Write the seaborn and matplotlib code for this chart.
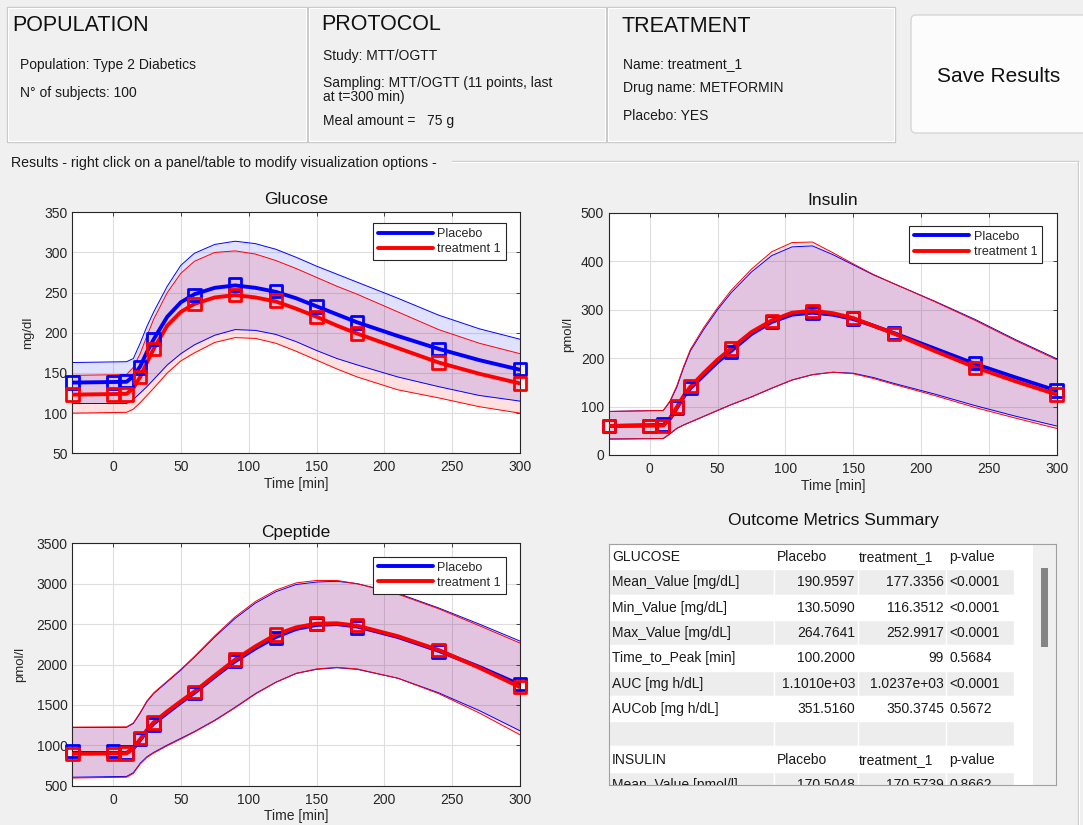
import matplotlib
matplotlib.use("Agg")
import matplotlib.pyplot as plt
import seaborn as sns
from matplotlib.patches import Rectangle, FancyBboxPatch
from matplotlib.lines import Line2D

# ------------------------------------------------------------------ data
T_CURVE = [-30, 10, 15, 20, 25, 30, 40, 50, 60, 75, 90, 105, 120, 135, 150, 165, 180, 210, 240, 270, 300]
T_SAMPLE = [-30, 0, 10, 20, 30, 60, 90, 120, 150, 180, 240, 300]

# Glucose [mg/dl]
GLU_PLA_MEAN = [138, 139, 146, 158, 176, 192, 220, 238, 248, 256, 259, 256, 251, 243, 233, 223, 213, 196, 180, 166, 154]
GLU_PLA_HI = [163, 164, 168, 187, 208, 226, 258, 284, 299, 310, 314, 311, 304, 294, 283, 273, 263, 243, 222, 205, 192]
GLU_PLA_LO = [112, 112, 117, 125, 133, 142, 160, 174, 185, 197, 204, 203, 198, 189, 178, 168, 160, 145, 133, 122, 115]
GLU_TRT_MEAN = [123, 124, 131, 145, 163, 180, 209, 226, 236, 244, 247, 244, 239, 230, 220, 209, 199, 181, 163, 149, 137]
GLU_TRT_HI = [147, 148, 157, 174, 196, 217, 250, 274, 289, 300, 302, 298, 290, 280, 269, 258, 248, 226, 204, 187, 174]
GLU_TRT_LO = [100, 101, 105, 113, 122, 131, 150, 165, 175, 188, 194, 193, 187, 177, 166, 155, 145, 129, 119, 108, 100]
GLU_PLA_SAMPLES = [138, 138, 140, 157, 192, 247, 260, 252, 233, 213, 180, 155]
GLU_TRT_SAMPLES = [123, 123, 123, 145, 180, 236, 247, 240, 220, 199, 163, 137]

# Insulin [pmol/l]
INS_PLA_MEAN = [60, 62, 75, 97, 120, 138, 165, 192, 215, 250, 275, 290, 294, 290, 281, 267, 252, 220, 188, 160, 133]
INS_PLA_HI = [90, 92, 110, 140, 180, 215, 260, 300, 335, 378, 412, 430, 432, 414, 393, 372, 354, 318, 280, 238, 199]
INS_PLA_LO = [33, 34, 44, 55, 62, 68, 80, 92, 104, 120, 138, 155, 166, 171, 169, 160, 148, 126, 102, 80, 60]
INS_TRT_MEAN = [60, 61, 76, 99, 122, 141, 170, 197, 220, 254, 278, 294, 298, 293, 283, 267, 251, 215, 181, 152, 125]
INS_TRT_HI = [90, 92, 112, 143, 183, 218, 264, 304, 340, 384, 420, 439, 440, 418, 395, 373, 354, 317, 278, 236, 197]
INS_TRT_LO = [33, 34, 44, 55, 62, 68, 80, 92, 104, 120, 138, 155, 166, 171, 168, 158, 146, 123, 98, 76, 55]
INS_PLA_SAMPLES = [60, 60, 63, 98, 138, 213, 275, 293, 282, 252, 190, 133]
INS_TRT_SAMPLES = [60, 60, 60, 100, 142, 220, 277, 298, 283, 250, 180, 125]

# C-peptide [pmol/l]
CP_PLA_MEAN = [905, 905, 960, 1065, 1180, 1270, 1400, 1530, 1650, 1850, 2040, 2200, 2340, 2440, 2490, 2500, 2470, 2340, 2170, 1970, 1750]
CP_PLA_HI = [1220, 1222, 1270, 1395, 1540, 1640, 1785, 1930, 2090, 2340, 2570, 2760, 2900, 2990, 3020, 3030, 3000, 2880, 2700, 2500, 2290]
CP_PLA_LO = [605, 615, 661, 776, 858, 912, 1003, 1086, 1170, 1310, 1470, 1640, 1780, 1890, 1940, 1960, 1940, 1830, 1650, 1430, 1180]
CP_TRT_MEAN = [895, 900, 965, 1075, 1190, 1284, 1420, 1545, 1665, 1865, 2060, 2225, 2370, 2460, 2505, 2510, 2480, 2350, 2180, 1960, 1720]
CP_TRT_HI = [1225, 1228, 1278, 1405, 1550, 1650, 1795, 1940, 2100, 2355, 2590, 2780, 2920, 3010, 3040, 3040, 3000, 2870, 2690, 2480, 2265]
CP_TRT_LO = [595, 605, 652, 768, 850, 905, 995, 1078, 1165, 1305, 1465, 1635, 1780, 1890, 1945, 1965, 1945, 1830, 1640, 1400, 1130]
CP_PLA_SAMPLES = [930, 930, 910, 1080, 1260, 1650, 2040, 2330, 2500, 2460, 2160, 1760]
CP_TRT_SAMPLES = [890, 890, 900, 1090, 1280, 1660, 2060, 2370, 2510, 2490, 2180, 1720]

SERIES_LABELS = ["Placebo", "treatment 1"]

GLU_YTICKS = [50, 100, 150, 200, 250, 300, 350]
INS_YTICKS = [0, 100, 200, 300, 400, 500]
CP_YTICKS = [500, 1000, 1500, 2000, 2500, 3000, 3500]
X_TICKS = [0, 50, 100, 150, 200, 250, 300]

# Outcome table
TBL_LABELS = ["GLUCOSE", "Mean_Value [mg/dL]", "Min_Value [mg/dL]", "Max_Value [mg/dL]",
              "Time_to_Peak [min]", "AUC [mg h/dL]", "AUCob [mg h/dL]", "",
              "INSULIN", "Mean_Value [pmol/l]"]
TBL_PLACEBO = ["Placebo", "190.9597", "130.5090", "264.7641", "100.2000", "1.1010e+03", "351.5160", "",
               "Placebo", "170.5048"]
TBL_TREAT = ["treatment_1", "177.3356", "116.3512", "252.9917", "99", "1.0237e+03", "350.3745", "",
             "treatment_1", "170.5739"]
TBL_PVALUE = ["p-value", "<0.0001", "<0.0001", "<0.0001", "0.5684", "<0.0001", "0.5672", "",
              "p-value", "0.8662"]
TBL_HEADER_ROWS = [0, 8]

# ------------------------------------------------------------------ style
sns.set_style("white")
plt.rcParams["font.family"] = ["Liberation Sans", "DejaVu Sans"]

W, H = 1083, 825
BG = "#f0f0f0"
AX_COL = "#262626"
fig = plt.figure(figsize=(W / 100, H / 100), dpi=100, facecolor=BG)


def add_px_axes(x0, y0, x1, y1):
    return fig.add_axes([x0 / W, 1 - y1 / H, (x1 - x0) / W, (y1 - y0) / H])


# ------------------------------------------------------------------ GUI chrome
bg = add_px_axes(0, 0, W, H)
bg.set_xlim(0, W)
bg.set_ylim(H, 0)
bg.axis("off")
bg.set_zorder(0)

for x0, x1 in [(7, 307), (308, 606), (607, 895)]:
    bg.add_patch(Rectangle((x0, 7), x1 - x0, 135, fill=False, ec="#c8c8c8", lw=1.0))
    bg.add_patch(Rectangle((x0 + 1.2, 8.2), x1 - x0 - 2.4, 132.6, fill=False, ec="#ffffff", lw=0.8))

bg.add_patch(FancyBboxPatch((911, 15), 200, 118, boxstyle="round,pad=0,rounding_size=5",
                            fc="#fcfcfc", ec="#d6d6d6", lw=1.0))
bg.text(999, 76, "Save Results", fontsize=15, ha="center", va="center", color="#111111")

bg.text(12, 31, "POPULATION", fontsize=15.5, va="baseline", color="#111111")
bg.text(20, 69, "Population: Type 2 Diabetics", fontsize=10, va="baseline", color="#1a1a1a")
bg.text(20, 97, "N\u00b0 of subjects: 100", fontsize=10, va="baseline", color="#1a1a1a")

bg.text(321, 30, "PROTOCOL", fontsize=15.5, va="baseline", color="#111111")
bg.text(323, 60, "Study: MTT/OGTT", fontsize=10, va="baseline", color="#1a1a1a")
bg.text(323, 87, "Sampling: MTT/OGTT (11 points, last", fontsize=10, va="baseline", color="#1a1a1a")
bg.text(323, 101, "at t=300 min)", fontsize=10, va="baseline", color="#1a1a1a")
bg.text(323, 125, "Meal amount =   75 g", fontsize=10, va="baseline", color="#1a1a1a")

bg.text(622, 32, "TREATMENT", fontsize=15.5, va="baseline", color="#111111")
bg.text(623, 68, "Name: treatment_1", fontsize=10, va="baseline", color="#1a1a1a")
bg.text(623, 92, "Drug name: METFORMIN", fontsize=10, va="baseline", color="#1a1a1a")
bg.text(623, 120, "Placebo: YES", fontsize=10, va="baseline", color="#1a1a1a")

bg.text(11, 167, "Results - right click on a panel/table to modify visualization options -",
        fontsize=10.2, va="baseline", color="#1a1a1a")
bg.plot([452, 1078], [161, 161], color="#cdcdcd", lw=1.0)
bg.plot([452, 1077], [162.2, 162.2], color="#ffffff", lw=0.8)
bg.plot([1078, 1078], [161, H], color="#cdcdcd", lw=1.0)
bg.plot([1079.2, 1079.2], [162, H], color="#ffffff", lw=0.8)

bg.text(833, 521, "Outcome Metrics Summary", fontsize=12.5, ha="center", va="center", color="#111111")


# ------------------------------------------------------------------ plots
def draw_panel(ax, title, ylabel, yticks, pla, trt, title_pad, ylab_x, leg_anchor):
    (p_mean, p_lo, p_hi, p_s), (t_mean, t_lo, t_hi, t_s) = pla, trt
    ax.set_facecolor("white")
    ax.fill_between(T_CURVE, p_lo, p_hi, color="#0000ff", alpha=0.12, lw=0, zorder=1)
    ax.fill_between(T_CURVE, t_lo, t_hi, color="#ff0000", alpha=0.12, lw=0, zorder=1)
    for vals, col in [(p_lo, "#0000ff"), (p_hi, "#0000ff"), (t_lo, "#ff0000"), (t_hi, "#ff0000")]:
        sns.lineplot(x=T_CURVE, y=vals, ax=ax, color=col, lw=0.7, estimator=None, sort=False, zorder=2)
    sns.lineplot(x=T_CURVE, y=p_mean, ax=ax, color="#0000ff", lw=2.8, estimator=None, sort=False, zorder=3)
    sns.lineplot(x=T_CURVE, y=t_mean, ax=ax, color="#ff0000", lw=2.8, estimator=None, sort=False, zorder=4)
    sns.scatterplot(x=T_SAMPLE, y=p_s, ax=ax, marker="s", s=80, facecolor="none",
                    edgecolor="#0000ff", linewidth=2.0, zorder=5, clip_on=False)
    sns.scatterplot(x=T_SAMPLE, y=t_s, ax=ax, marker="s", s=80, facecolor="none",
                    edgecolor="#ff0000", linewidth=2.0, zorder=6, clip_on=False)

    ax.set_xlim(-30, 300)
    ax.set_ylim(yticks[0], yticks[-1])
    ax.set_xticks(X_TICKS)
    ax.set_yticks(yticks)
    ax.grid(True, color="#dedede", lw=0.8)
    ax.set_axisbelow(True)
    for sp in ax.spines.values():
        sp.set_visible(True)
        sp.set_color(AX_COL)
        sp.set_linewidth(0.8)
    ax.tick_params(direction="in", length=3, width=0.6, color=AX_COL, labelcolor=AX_COL,
                   labelsize=10, top=True, right=True)
    ax.tick_params(axis="x", pad=5)
    ax.tick_params(axis="y", pad=3.5)
    ax.set_title(title, fontsize=12.5, pad=title_pad, color="#111111")
    ax.set_xlabel("Time [min]", fontsize=10, labelpad=2, color=AX_COL)
    ax.set_ylabel(ylabel, fontsize=9.5, color=AX_COL)
    ax.yaxis.set_label_coords(ylab_x, 0.5)

    handles = [Line2D([], [], color="#0000ff", lw=2.8), Line2D([], [], color="#ff0000", lw=2.8)]
    leg = ax.legend(handles, SERIES_LABELS, loc="upper right", bbox_to_anchor=leg_anchor,
                    borderaxespad=0, fancybox=False, framealpha=1, edgecolor=AX_COL,
                    fontsize=9, handlelength=4.4, handletextpad=0.35, borderpad=0.4,
                    labelspacing=0.25)
    leg.get_frame().set_linewidth(0.8)
    leg.set_zorder(10)


ax_g = add_px_axes(72.3, 212.3, 520, 453.3)
draw_panel(ax_g, "Glucose", "mg/dl", GLU_YTICKS,
           (GLU_PLA_MEAN, GLU_PLA_LO, GLU_PLA_HI, GLU_PLA_SAMPLES),
           (GLU_TRT_MEAN, GLU_TRT_LO, GLU_TRT_HI, GLU_TRT_SAMPLES),
           6, -0.085, (0.969, 0.955))

ax_i = add_px_axes(609, 213, 1056.6, 455)
draw_panel(ax_i, "Insulin", "pmol/l", INS_YTICKS,
           (INS_PLA_MEAN, INS_PLA_LO, INS_PLA_HI, INS_PLA_SAMPLES),
           (INS_TRT_MEAN, INS_TRT_LO, INS_TRT_HI, INS_TRT_SAMPLES),
           6, -0.078, (0.968, 0.947))

ax_c = add_px_axes(72.3, 543.3, 520, 785.7)
draw_panel(ax_c, "Cpeptide", "pmol/l", CP_YTICKS,
           (CP_PLA_MEAN, CP_PLA_LO, CP_PLA_HI, CP_PLA_SAMPLES),
           (CP_TRT_MEAN, CP_TRT_LO, CP_TRT_HI, CP_TRT_SAMPLES),
           4.5, -0.103, (0.969, 0.945))

# ------------------------------------------------------------------ table
T_X0, T_Y0, T_X1, T_Y1 = 609, 544, 1056, 785
tb = add_px_axes(T_X0, T_Y0, T_X1, T_Y1)
tb.set_xlim(T_X0, T_X1)
tb.set_ylim(T_Y1, T_Y0)
tb.set_xticks([])
tb.set_yticks([])
tb.set_facecolor("white")
for sp in tb.spines.values():
    sp.set_visible(True)
    sp.set_color("#a0a0a0")
    sp.set_linewidth(0.8)

COLS = [609, 774, 858, 946, 1014]
ROW_H = 25.3
for i, lab in enumerate(TBL_LABELS):
    y0 = T_Y0 + i * ROW_H
    fc = "#ffffff" if i % 2 == 0 else "#ededed"
    for c0, c1 in zip(COLS[:-1], COLS[1:]):
        tb.add_patch(Rectangle((c0, y0), c1 - c0, ROW_H, fc=fc, ec="white", lw=1.0, zorder=1))
    yc = y0 + ROW_H / 2 + 0.5
    kw = dict(fontsize=10, va="center", color="#1a1a1a", clip_on=True, zorder=3)
    tb.text(612, yc, lab, ha="left", **kw)
    if i in TBL_HEADER_ROWS:
        tb.text(777, yc, TBL_PLACEBO[i], ha="left", **kw)
        tb.text(859, yc, TBL_TREAT[i], ha="left", **kw)
    else:
        tb.text(855, yc, TBL_PLACEBO[i], ha="right", **kw)
        tb.text(944, yc, TBL_TREAT[i], ha="right", **kw)
    tb.text(949, yc, TBL_PVALUE[i], ha="left", **kw)

tb.add_patch(Rectangle((1033, T_Y0), T_X1 - 1033, T_Y1 - T_Y0, fc="#f0f0f0", ec="none", zorder=2))
tb.add_patch(Rectangle((1041, 568), 6.5, 79, fc="#858585", ec="none", zorder=3))

fig.savefig("out.png", dpi=100, facecolor=BG)
